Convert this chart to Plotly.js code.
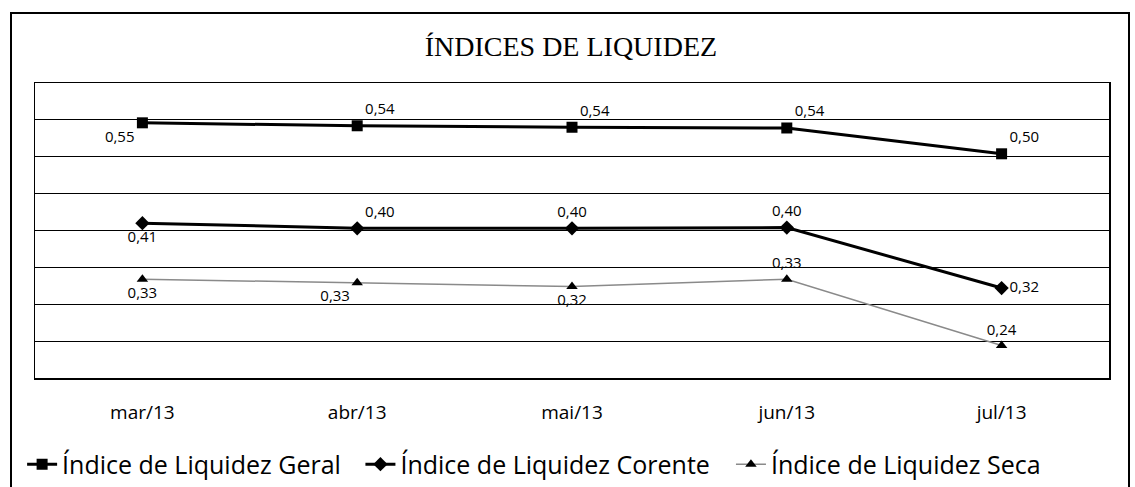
<!DOCTYPE html>
<html><head><meta charset="utf-8">
<script src="https://cdn.plot.ly/plotly-3.0.1.min.js"></script>
<style>
body{margin:0;background:#fff;}
#chart{width:1135px;height:487px;position:absolute;left:0;top:0;}
#frame{position:absolute;left:10px;top:12px;width:1116px;height:520px;border:2px solid #000;border-bottom:none;pointer-events:none;}
</style></head>
<body>
<div id="chart"></div>
<div id="frame"></div>
<script>
const months = ['mar/13','abr/13','mai/13','jun/13','jul/13'];
const geral = [0.546, 0.542, 0.540, 0.539, 0.504];
const corrente = [0.410, 0.403, 0.403, 0.404, 0.322];
const seca = [0.334, 0.329, 0.324, 0.334, 0.244];
const names = ['Índice de Liquidez Geral','Índice de Liquidez Corente','Índice de Liquidez Seca'];

const lblFont = {family:'Open Sans, sans-serif', size:15, color:'#000'};
const traces = [
  {x:months, y:geral, name:names[0], type:'scatter', mode:'lines+markers+text', legend:'legend',
   line:{color:'#000', width:3}, marker:{symbol:'square', size:11, color:'#000'},
   texttemplate:'%{y:.2f}', textposition:['bottom left','top right','top right','top right','top right'], textfont:lblFont},
  {x:months, y:corrente, name:names[1], type:'scatter', mode:'lines+markers+text', legend:'legend2',
   line:{color:'#000', width:3}, marker:{symbol:'diamond', size:11, color:'#000'},
   texttemplate:'%{y:.2f}', textposition:['bottom center','top right','top center','top center','middle right'], textfont:lblFont},
  {x:months, y:seca, name:names[2], type:'scatter', mode:'lines+markers+text', legend:'legend3',
   line:{color:'#8a8a8a', width:1.5}, marker:{symbol:'triangle-up', size:10, color:'#000'},
   texttemplate:'%{y:.2f}', textposition:['bottom center','bottom left','bottom center','top center','top center'], textfont:lblFont}
];
const legFont = {family:'Open Sans, sans-serif', size:25, color:'#000'};
const legBase = {orientation:'h', y:-0.215, yanchor:'top', xanchor:'left', font:legFont, itemwidth:30, bgcolor:'rgba(0,0,0,0)'};
const layout = {
  width:1135, height:487, separators:',.',
  margin:{l:35, r:26, t:83, b:109, autoexpand:false},
  paper_bgcolor:'#fff', plot_bgcolor:'#fff',
  title:{text:'ÍNDICES DE LIQUIDEZ', x:0.503, xanchor:'center', y:0.905, yanchor:'middle',
         font:{family:'Liberation Serif, DejaVu Serif, serif', size:28, color:'#000'}},
  xaxis:{type:'category', range:[-0.5,4.5], showgrid:false, zeroline:false,
         showline:true, linecolor:'#000', linewidth:1.5, mirror:true, ticks:'',
         tickfont:{family:'Open Sans, sans-serif', size:19, color:'#000'}, ticklabelstandoff:17},
  yaxis:{range:[0.2,0.6], dtick:0.05, tick0:0, showticklabels:false, showgrid:true,
         gridcolor:'#000', gridwidth:1, zeroline:false, showline:true, linecolor:'#000',
         linewidth:1.5, mirror:true, ticks:''},
  showlegend:true,
  legend:Object.assign({}, legBase, {x:-0.012}),
  legend2:Object.assign({}, legBase, {x:0.303}),
  legend3:Object.assign({}, legBase, {x:0.648}),
};
Plotly.newPlot('chart', traces, layout, {displayModeBar:false, staticPlot:true});
</script>
</body></html>
